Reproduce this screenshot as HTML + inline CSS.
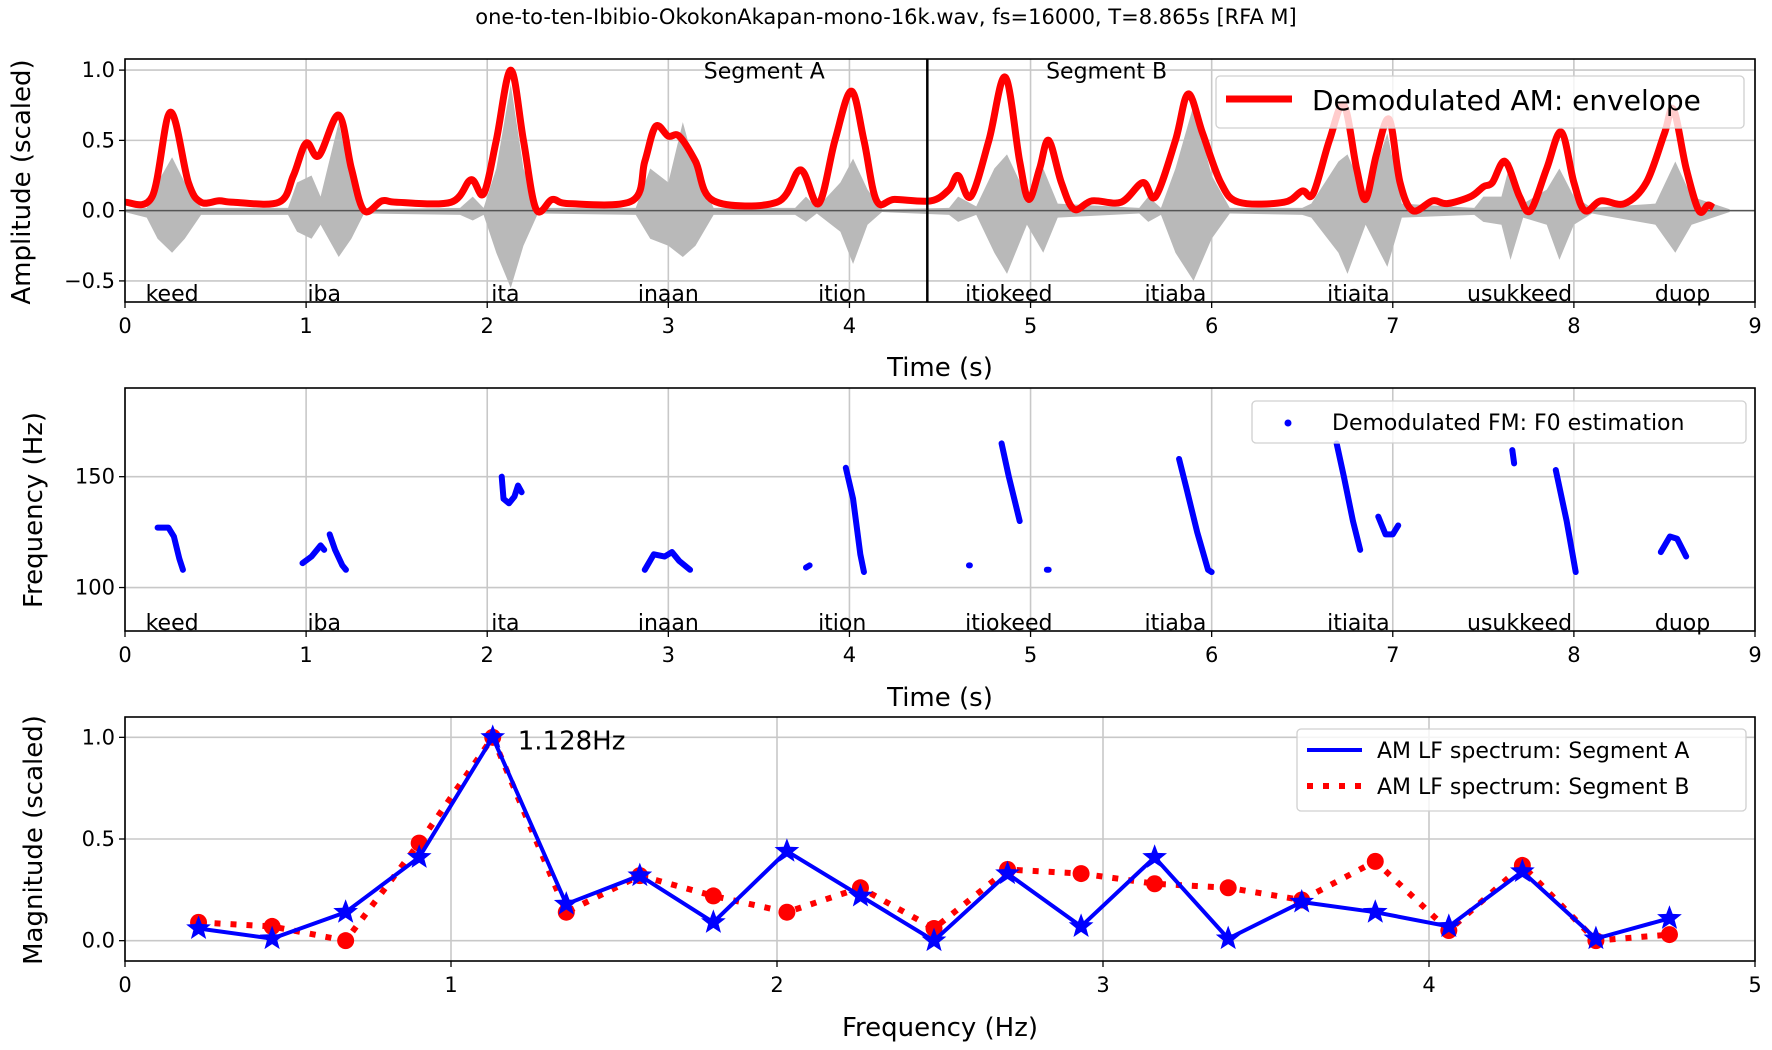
<!DOCTYPE html>
<html><head><meta charset="utf-8">
<style>
html,body{margin:0;padding:0;background:#fff;}
svg{display:block;font-family:"DejaVu Sans","Liberation Sans",sans-serif;}
</style></head>
<body>
<svg id="chart" width="1772" height="1050" viewBox="0 0 1772 1050" xmlns="http://www.w3.org/2000/svg">
<text x="886" y="24" text-anchor="middle" font-size="21">one-to-ten-Ibibio-OkokonAkapan-mono-16k.wav, fs=16000, T=8.865s [RFA M]</text>
</svg>
<script>
// ---------- DATA ----------
const words = ["keed","iba","ita","inaan","ition","itiokeed","itiaba","itiaita","usukkeed","duop"];
const wordTimes = [0.26,1.1,2.1,3.0,3.96,4.88,5.8,6.81,7.7,8.6];
const segBoundary = 4.43;
const envT = [0,0.15,0.25,0.35,0.42,0.52,0.6,0.85,0.93,1.0,1.07,1.18,1.25,1.32,1.42,1.5,1.8,1.91,1.98,2.05,2.13,2.2,2.27,2.36,2.45,2.8,2.87,2.93,3.0,3.06,3.15,3.25,3.6,3.73,3.83,3.92,4.01,4.08,4.15,4.25,4.45,4.55,4.6,4.67,4.77,4.86,4.94,4.99,5.05,5.1,5.17,5.24,5.34,5.5,5.62,5.69,5.8,5.87,5.95,6.05,6.15,6.4,6.5,6.56,6.65,6.73,6.8,6.85,6.91,6.98,7.04,7.11,7.22,7.3,7.43,7.5,7.55,7.62,7.7,7.76,7.85,7.93,8.0,8.06,8.15,8.28,8.4,8.5,8.55,8.62,8.69,8.74,8.77];
const envV = [0.06,0.10,0.70,0.20,0.06,0.07,0.06,0.06,0.25,0.48,0.39,0.68,0.30,0.0,0.07,0.06,0.06,0.22,0.12,0.5,1.0,0.5,0.01,0.08,0.05,0.07,0.35,0.60,0.53,0.53,0.35,0.07,0.06,0.29,0.05,0.5,0.85,0.5,0.07,0.08,0.07,0.15,0.25,0.1,0.5,0.95,0.35,0.08,0.3,0.5,0.2,0.01,0.07,0.06,0.2,0.1,0.5,0.83,0.55,0.2,0.06,0.06,0.14,0.12,0.5,0.75,0.3,0.08,0.4,0.65,0.2,0.0,0.07,0.05,0.1,0.17,0.2,0.35,0.1,0.0,0.3,0.56,0.2,0.0,0.07,0.05,0.2,0.55,0.72,0.3,0.0,0.04,0.02];
const wfT = [0.0,0.12,0.18,0.26,0.33,0.42,0.9,0.95,1.03,1.08,1.18,1.25,1.32,1.85,1.92,1.98,2.05,2.13,2.2,2.28,2.82,2.9,3.0,3.08,3.15,3.25,3.7,3.76,3.82,3.95,4.02,4.1,4.18,4.55,4.6,4.7,4.8,4.87,4.98,5.07,5.15,5.6,5.65,5.72,5.8,5.9,6.0,6.1,6.5,6.55,6.7,6.75,6.85,6.97,7.05,7.45,7.5,7.6,7.65,7.72,7.85,7.92,8.0,8.1,8.45,8.56,8.65,8.86];
const wfPos = [0.01,0.02,0.2,0.38,0.2,0.02,0.02,0.2,0.25,0.1,0.63,0.2,0.01,0.02,0.1,0.02,0.3,0.9,0.3,0.02,0.02,0.3,0.2,0.63,0.3,0.02,0.02,0.1,0.02,0.2,0.37,0.15,0.01,0.02,0.1,0.03,0.3,0.4,0.1,0.3,0.05,0.02,0.1,0.02,0.3,0.75,0.25,0.02,0.02,0.05,0.35,0.4,0.1,0.55,0.05,0.02,0.1,0.1,0.35,0.05,0.15,0.3,0.1,0.02,0.05,0.35,0.1,0.01];
const wfNeg = [-0.01,-0.05,-0.2,-0.3,-0.2,-0.03,-0.03,-0.15,-0.2,-0.1,-0.33,-0.2,-0.02,-0.03,-0.07,-0.03,-0.3,-0.55,-0.25,-0.02,-0.03,-0.2,-0.25,-0.33,-0.25,-0.03,-0.03,-0.08,-0.02,-0.15,-0.38,-0.1,-0.01,-0.03,-0.08,-0.03,-0.3,-0.45,-0.1,-0.3,-0.05,-0.02,-0.08,-0.03,-0.3,-0.5,-0.2,-0.02,-0.03,-0.05,-0.3,-0.45,-0.1,-0.4,-0.05,-0.03,-0.08,-0.1,-0.35,-0.05,-0.1,-0.35,-0.1,-0.02,-0.1,-0.3,-0.1,-0.01];
const f0Tracks = [
 [[0.18,127],[0.24,127],[0.27,123],[0.3,113],[0.32,108]],
 [[0.98,111],[1.03,114],[1.08,119],[1.1,117]],
 [[1.13,124],[1.16,117],[1.2,110],[1.22,108]],
 [[2.08,150],[2.09,140],[2.12,138],[2.15,141],[2.17,146],[2.19,143]],
 [[2.87,108],[2.92,115],[2.98,114],[3.02,116],[3.06,112],[3.12,108]],
 [[3.76,109],[3.78,110]],
 [[3.98,154],[4.02,140],[4.06,115],[4.08,107]],
 [[4.66,110],[4.665,110]],
 [[4.84,165],[4.88,150],[4.94,130]],
 [[5.09,108],[5.1,108]],
 [[5.82,158],[5.86,145],[5.92,125],[5.98,108],[6.0,107]],
 [[6.69,165],[6.73,150],[6.78,130],[6.82,117]],
 [[6.92,132],[6.96,124],[7.0,124],[7.03,128]],
 [[7.66,162],[7.67,156]],
 [[7.9,153],[7.96,130],[8.01,107]],
 [[8.48,116],[8.53,123],[8.57,122],[8.62,114]]
];
const specFreq = [0.2256,0.4512,0.6768,0.9024,1.128,1.3536,1.5792,1.8048,2.0304,2.256,2.4816,2.7072,2.9328,3.1584,3.384,3.6096,3.8352,4.0608,4.2864,4.512,4.7376];
const specA = [0.06,0.01,0.14,0.41,1.0,0.18,0.32,0.09,0.44,0.22,0.0,0.33,0.07,0.41,0.01,0.19,0.14,0.07,0.34,0.01,0.11];
const specB = [0.09,0.07,0.0,0.48,1.0,0.14,0.32,0.22,0.14,0.26,0.06,0.35,0.33,0.28,0.26,0.2,0.39,0.05,0.37,0.0,0.03];
const xTicks9 = [0,1,2,3,4,5,6,7,8,9];
const yTicks1 = [-0.5,0.0,0.5,1.0];
const yTicks2 = [100,150];
const xTicks3 = [0,1,2,3,4,5];
const yTicks3 = [0.0,0.5,1.0];

// ---------- HELPERS ----------
const svg = document.getElementById('chart');
const NS = "http://www.w3.org/2000/svg";
function mk(tag, attrs, parent){ const e=document.createElementNS(NS,tag); for(const k in attrs) e.setAttribute(k,attrs[k]); (parent||svg).appendChild(e); return e; }
function lin(d0,d1,r0,r1){ return v=> r0+(v-d0)/(d1-d0)*(r1-r0); }
function smoothPath(pts){
  let d="M"+pts[0][0]+","+pts[0][1];
  for(let i=0;i<pts.length-1;i++){
    const p0=pts[Math.max(0,i-1)],p1=pts[i],p2=pts[i+1],p3=pts[Math.min(pts.length-1,i+2)];
    const c1=[p1[0]+(p2[0]-p0[0])/6,p1[1]+(p2[1]-p0[1])/6];
    const c2=[p2[0]-(p3[0]-p1[0])/6,p2[1]-(p3[1]-p1[1])/6];
    d+=" C"+c1[0]+","+c1[1]+" "+c2[0]+","+c2[1]+" "+p2[0]+","+p2[1];
  }
  return d;
}
function axesFrame(L,T,R,B,xs,ys,xt,yt,yfmt,name){
  const g=mk('g',{});
  
  
  xt.forEach(v=>{ const x=xs(v);
    const gl=mk('line',{x1:x,x2:x,y1:T,y2:B,stroke:'#c8c8c8','stroke-width':1.6},g);
     
    mk('line',{x1:x,x2:x,y1:B,y2:B+6,stroke:'#000','stroke-width':1.3},g);
    const t=mk('text',{x:x,y:B+31,'text-anchor':'middle','font-size':21},g); t.textContent=v;
     
  });
  yt.forEach(v=>{ const y=ys(v);
    const gl=mk('line',{x1:L,x2:R,y1:y,y2:y,stroke:'#c8c8c8','stroke-width':1.6},g);
     
    mk('line',{x1:L-6,x2:L,y1:y,y2:y,stroke:'#000','stroke-width':1.3},g);
    const t=mk('text',{x:L-10,y:y+7,'text-anchor':'end','font-size':21},g); t.textContent=yfmt(v);
     
  });
  return g;
}
function border(L,T,R,B){ const r=mk('rect',{x:L,y:T,width:R-L,height:B-T,fill:'none',stroke:'#000','stroke-width':1.6});
    }
function label(txt,x,y,size,rot,name){
  const t=mk('text',{x:x,y:y,'text-anchor':'middle','font-size':size});
  if(rot) t.setAttribute('transform','rotate(-90 '+x+' '+y+')');
  t.textContent=txt;
  
  
  return t;
}
const fmt1 = v=> (v<0?"\u2212":"")+Math.abs(v).toFixed(1);

// ---------- PANEL 1 ----------
{
const L=125,R=1755,T=59,B=302;
const xs=lin(0,9,L,R), ys=lin(-0.65,1.079,B,T);
axesFrame(L,T,R,B,xs,ys,xTicks9,yTicks1,fmt1,'amplitude-axes');
let d="M"+xs(wfT[0])+","+ys(wfPos[0]);
for(let i=1;i<wfT.length;i++) d+=" L"+xs(wfT[i])+","+ys(wfPos[i]);
for(let i=wfT.length-1;i>=0;i--) d+=" L"+xs(wfT[i])+","+ys(wfNeg[i]);
const wf=mk('path',{d:d+"Z",fill:'#b9b9b9',stroke:'none'});
 
const zl=mk('line',{x1:L,x2:R,y1:ys(0),y2:ys(0),stroke:'#555','stroke-width':1.5});
 
const env=mk('path',{d:smoothPath(envT.map((t,i)=>[xs(t),ys(envV[i])])),fill:'none',stroke:'#ff0000','stroke-width':7,'stroke-linejoin':'round'});
 
const sb=mk('line',{x1:xs(segBoundary),x2:xs(segBoundary),y1:T,y2:B,stroke:'#000','stroke-width':2.5});
 
label('Segment A',xs(3.53),ys(0.94),22,false,'segment-a-label');
label('Segment B',xs(5.42),ys(0.94),22,false,'segment-b-label');
words.forEach((w,i)=>{ const t=mk('text',{x:xs(wordTimes[i]),y:B-1,'text-anchor':'middle','font-size':22}); t.textContent=w;
    });
border(L,T,R,B);
const lg=mk('g',{});  
mk('rect',{x:1216,y:76,width:528,height:52,rx:4,fill:'rgba(255,255,255,0.8)',stroke:'#d0d0d0','stroke-width':1.3},lg);
mk('line',{x1:1226,x2:1292,y1:99,y2:99,stroke:'#ff0000','stroke-width':7},lg);
const lt=mk('text',{x:1312,y:110,'font-size':28},lg); lt.textContent='Demodulated AM: envelope';
label('Time (s)',940,376,26,false,'x-axis-title-time');
label('Amplitude (scaled)',30,182,26,true,'y-axis-title-amplitude');
}
// ---------- PANEL 2 ----------
{
const L=125,R=1755,T=388,B=631;
const xs=lin(0,9,L,R), ys=lin(80.4,190,B,T);
axesFrame(L,T,R,B,xs,ys,xTicks9,yTicks2,v=>v,'frequency-axes');
f0Tracks.forEach((tr,k)=>{
  const p=mk('path',{d:"M"+tr.map(p=>xs(p[0])+","+ys(p[1])).join(" L"),fill:'none',stroke:'#0000ff','stroke-width':6,'stroke-linecap':'round','stroke-linejoin':'round'});
   
});
words.forEach((w,i)=>{ const t=mk('text',{x:xs(wordTimes[i]),y:B-1,'text-anchor':'middle','font-size':22}); t.textContent=w;
    });
border(L,T,R,B);
const lg=mk('g',{});  
mk('rect',{x:1252,y:401,width:494,height:42,rx:4,fill:'rgba(255,255,255,0.8)',stroke:'#d0d0d0','stroke-width':1.3},lg);
mk('circle',{cx:1288,cy:423,r:3.5,fill:'#0000ff'},lg);
const lt=mk('text',{x:1332,y:430,'font-size':22},lg); lt.textContent='Demodulated FM: F0 estimation';
label('Time (s)',940,706,26,false,'x-axis-title-time-2');
label('Frequency (Hz)',42,510,26,true,'y-axis-title-frequency');
}
// ---------- PANEL 3 ----------
{
const L=125,R=1755,T=717,B=961;
const xs=lin(0,5,L,R), ys=lin(-0.1,1.1,B,T);
axesFrame(L,T,R,B,xs,ys,xTicks3,yTicks3,v=>v.toFixed(1),'spectrum-axes');
const pa=specFreq.map((f,i)=>[xs(f),ys(specA[i])]);
const pb=specFreq.map((f,i)=>[xs(f),ys(specB[i])]);
const lb=mk('path',{d:"M"+pb.map(p=>p.join(",")).join(" L"),fill:'none',stroke:'#ff0000','stroke-width':6,'stroke-dasharray':'6 10'});
 
pb.forEach(p=>{ const c=mk('circle',{cx:p[0],cy:p[1],r:8.5,fill:'#ff0000'});
    });
const la=mk('path',{d:"M"+pa.map(p=>p.join(",")).join(" L"),fill:'none',stroke:'#0000ff','stroke-width':4,'stroke-linejoin':'round'});
 
function star(cx,cy,r){ let s=""; for(let k=0;k<10;k++){ const a=-Math.PI/2+k*Math.PI/5; const rr=k%2?r*0.42:r; s+=(cx+rr*Math.cos(a))+","+(cy+rr*Math.sin(a))+" "; } return s; }
pa.forEach(p=>{ const s=mk('polygon',{points:star(p[0],p[1],13),fill:'#0000ff'});
    });
const pk=specA.indexOf(Math.max(...specA));
const an=mk('text',{x:xs(specFreq[pk])+25,y:ys(1.0)+12,'font-size':26}); an.textContent=specFreq[pk].toFixed(3)+'Hz';
 
border(L,T,R,B);
const lg=mk('g',{});  
mk('rect',{x:1297,y:729,width:449,height:82,rx:4,fill:'rgba(255,255,255,0.8)',stroke:'#d0d0d0','stroke-width':1.3},lg);
mk('line',{x1:1307,x2:1362,y1:750,y2:750,stroke:'#0000ff','stroke-width':4},lg);
mk('line',{x1:1307,x2:1362,y1:786,y2:786,stroke:'#ff0000','stroke-width':6,'stroke-dasharray':'6 10'},lg);
const t1=mk('text',{x:1377,y:758,'font-size':22},lg); t1.textContent='AM LF spectrum: Segment A';
const t2=mk('text',{x:1377,y:794,'font-size':22},lg); t2.textContent='AM LF spectrum: Segment B';
label('Frequency (Hz)',940,1036,26,false,'x-axis-title-frequency');
label('Magnitude (scaled)',42,840,26,true,'y-axis-title-magnitude');
}
</script>
</body></html>
